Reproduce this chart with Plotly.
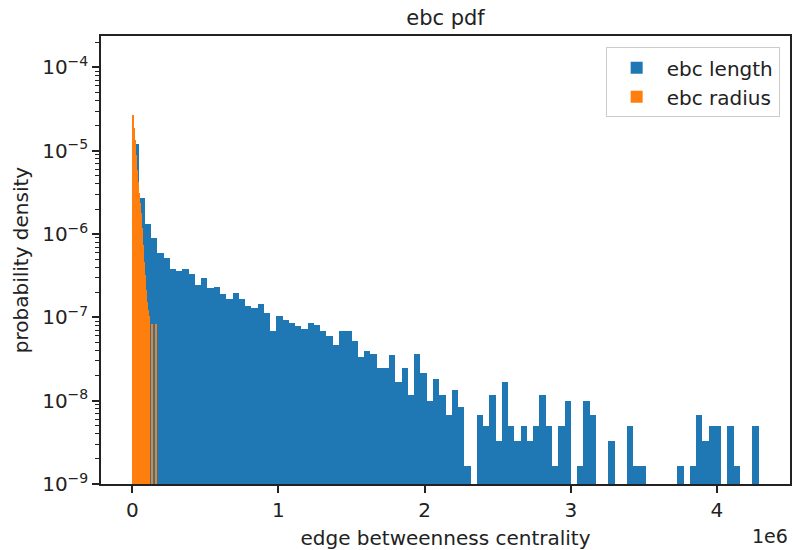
import plotly.graph_objects as go

# ---- data ----
# "ebc length": 100 equal bins between 0 and BLUE_MAX, raw counts per bin
BLUE_MAX = 4.2857e6
BLUE_COUNTS = [
    7215, 1622, 804, 541, 361, 314, 228, 217, 232, 199,
    146, 181, 137, 140, 114, 99, 117, 101, 83, 79,
    87, 68, 41, 62, 56, 51, 47, 44, 51, 49,
    41, 36, 28, 41, 41, 31, 20, 24, 22, 15,
    15, 21, 10, 15, 7, 22, 13, 6, 11, 7,
    4, 8, 5, 1, 0, 4, 3, 7, 2, 10,
    3, 2, 3, 2, 3, 7, 3, 1, 3, 6,
    0, 1, 6, 4, 0, 0, 2, 0, 0, 3,
    1, 1, 0, 0, 0, 0, 0, 1, 0, 1,
    4, 2, 3, 3, 0, 3, 1, 0, 0, 3,
]

# "ebc radius": probability density per narrow bin starting at 0
ORANGE_BIN_WIDTH = 6800
ORANGE_DENSITY = [
    2.69e-5, 1.88e-5, 1.35e-5, 8.9e-6, 5.9e-6, 4.2e-6, 3.1e-6, 2.36e-6,
    1.79e-6, 1.18e-6, 7.4e-7, 4.6e-7, 3.2e-7, 2.13e-7, 1.53e-7, 1.23e-7,
    1.04e-7, None, None, 8.3e-8, None, None, None, 8.3e-8,
]

SERIES_NAMES = ["ebc length", "ebc radius"]
X_TICKS = [0, 1e6, 2e6, 3e6, 4e6]
X_TICK_LABELS = ["0", "1", "2", "3", "4"]
Y_EXPONENTS = [-9, -8, -7, -6, -5, -4]
Y_TICK_LABELS = ["10<sup>\u2212%d</sup>" % (-e) for e in Y_EXPONENTS]

BLUE = "#1f77b4"
ORANGE = "#ff7f0e"
FONT = "DejaVu Sans"
TXT = "#222222"

# ---- derived histogram geometry ----
nb = len(BLUE_COUNTS)
bw = BLUE_MAX / nb
total = sum(BLUE_COUNTS)
blue_x = [(i + 0.5) * bw for i in range(nb)]
blue_y = [c / (total * bw) if c > 0 else None for c in BLUE_COUNTS]

orange_x = [(i + 0.5) * ORANGE_BIN_WIDTH for i in range(len(ORANGE_DENSITY))]

y_top_log = -3.622
minor_vals = [k * 10.0 ** e for e in Y_EXPONENTS for k in range(2, 10)
              if k * 10.0 ** e < 10 ** y_top_log]

fig = go.Figure()
fig.add_trace(go.Bar(x=blue_x, y=blue_y, width=bw, name=SERIES_NAMES[0],
                     marker=dict(color=BLUE, line=dict(width=0))))
fig.add_trace(go.Bar(x=orange_x, y=ORANGE_DENSITY, width=ORANGE_BIN_WIDTH,
                     name=SERIES_NAMES[1],
                     marker=dict(color=ORANGE, line=dict(width=0))))

axis_common = dict(showline=True, mirror=True, linecolor=TXT, linewidth=1.5,
                   ticks="outside", tickcolor=TXT, tickwidth=1.5, ticklen=7,
                   showgrid=False, zeroline=False, automargin=False,
                   tickfont=dict(family=FONT, size=20, color=TXT))

fig.update_layout(
    width=792, height=550,
    margin=dict(l=101, r=2, t=36, b=66),
    plot_bgcolor="white", paper_bgcolor="white",
    font=dict(family=FONT, size=20, color=TXT),
    barmode="overlay", bargap=0,
    title=dict(text="ebc pdf", x=0.5, xref="paper", xanchor="center",
               y=1 - 18 / 550, yref="container", yanchor="middle",
               font=dict(family=FONT, size=21, color=TXT)),
    legend=dict(x=0.985, y=0.975, xanchor="right", yanchor="top",
                bgcolor="white", bordercolor="#cccccc", borderwidth=1,
                font=dict(family=FONT, size=20, color=TXT), traceorder="normal",
                itemwidth=50, tracegroupgap=4),
    xaxis=dict(range=[-0.05 * BLUE_MAX, 1.05 * BLUE_MAX], tickmode="array",
               tickvals=X_TICKS, ticktext=X_TICK_LABELS,
               title=dict(text="edge betweenness centrality", standoff=10,
                          font=dict(family=FONT, size=20, color=TXT)),
               **axis_common),
    yaxis=dict(type="log", range=[-9, y_top_log], tickmode="array",
               tickvals=[10.0 ** e for e in Y_EXPONENTS], ticktext=Y_TICK_LABELS,
               title=dict(text="probability density", standoff=8,
                          font=dict(family=FONT, size=20, color=TXT)),
               minor=dict(tickmode="array", tickvals=minor_vals, ticks="outside",
                          ticklen=4, tickwidth=1.2, tickcolor=TXT,
                          showgrid=False),
               **axis_common),
    annotations=[dict(text="1e6", xref="paper", yref="paper", x=1.0, y=-0.116,
                      xanchor="right", yanchor="middle", showarrow=False,
                      font=dict(family=FONT, size=19, color=TXT))],
)

fig.write_html("out.html", config={"displayModeBar": False},
               post_script="document.body.style.margin='0px';"
                           "document.body.style.overflow='hidden';")
